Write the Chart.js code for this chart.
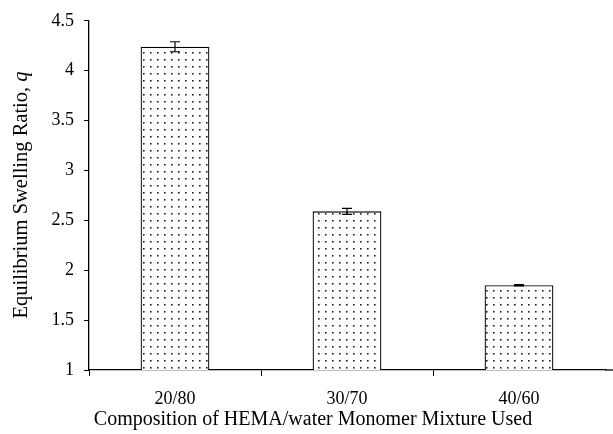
<!DOCTYPE html>
<html>
<head>
<meta charset="utf-8">
<script src="https://cdn.jsdelivr.net/npm/chart.js@4"></script>
<style>
  html, body { margin: 0; padding: 0; background: #fff; }
  #wrap { width: 613px; height: 434px; }
</style>
</head>
<body>
<div id="wrap"><canvas id="chart" width="613" height="434"></canvas></div>
<script>
// ------------ Données ------------
const categories = ["20/80", "30/70", "40/60"];
const swelling   = [4.24, 2.59, 1.85];
const errors     = [0.05, 0.03, 0.006];
const yTicks     = [1, 1.5, 2, 2.5, 3, 3.5, 4, 4.5];

const FONT = "'Liberation Serif', 'Times New Roman', serif";

// motif pointillé des barres
function dotPattern() {
  const c = document.createElement("canvas");
  c.width = 7; c.height = 7;
  const g = c.getContext("2d");
  g.fillStyle = "#fff";
  g.fillRect(0, 0, 7, 7);
  g.fillStyle = "#222";
  g.fillRect(3, 3, 1.6, 1.6);
  return g.createPattern(c, "repeat");
}

// barres d'erreur + titres des axes (q en italique)
const extras = {
  id: "extras",
  afterDatasetsDraw(chart) {
    const ctx = chart.ctx;
    const meta = chart.getDatasetMeta(0);
    const y = chart.scales.y;
    ctx.save();
    ctx.strokeStyle = "#000";
    ctx.lineWidth = 1.2;
    meta.data.forEach((bar, i) => {
      const top = y.getPixelForValue(swelling[i] + errors[i]);
      const bot = y.getPixelForValue(swelling[i] - errors[i]);
      const x = bar.x;
      ctx.beginPath();
      ctx.moveTo(x, top); ctx.lineTo(x, bot);
      ctx.moveTo(x - 5, top); ctx.lineTo(x + 5, top);
      ctx.moveTo(x - 5, bot); ctx.lineTo(x + 5, bot);
      ctx.stroke();
    });
    ctx.restore();
  },
  afterDraw(chart) {
    const ctx = chart.ctx;
    const area = chart.chartArea;
    ctx.save();
    // axe X prolongé jusqu'au bord
    ctx.strokeStyle = "#000";
    ctx.lineWidth = 1.3;
    ctx.beginPath();
    ctx.moveTo(area.right, area.bottom);
    ctx.lineTo(chart.width, area.bottom);
    ctx.stroke();

    ctx.fillStyle = "#000";
    // titre X
    ctx.font = "20px " + FONT;
    ctx.textAlign = "center";
    ctx.textBaseline = "middle";
    ctx.fillText("Composition of HEMA/water Monomer Mixture Used", 313, 420);
    // titre Y
    const plain = "Equilibrium Swelling Ratio, ";
    ctx.font = "20.5px " + FONT;
    const w1 = ctx.measureText(plain).width;
    ctx.font = "italic 20.5px " + FONT;
    const w2 = ctx.measureText("q").width;
    ctx.translate(22, 195);
    ctx.rotate(-Math.PI / 2);
    ctx.textAlign = "left";
    const start = -(w1 + w2) / 2;
    ctx.font = "20.5px " + FONT;
    ctx.fillText(plain, start, 0);
    ctx.font = "italic 20.5px " + FONT;
    ctx.fillText("q", start + w1, 0);
    ctx.restore();
  }
};

document.addEventListener("DOMContentLoaded", () => {
  const ctx = document.getElementById("chart").getContext("2d");
  new Chart(ctx, {
    type: "bar",
    data: {
      labels: categories,
      datasets: [{
        data: swelling,
        backgroundColor: dotPattern(),
        borderColor: "#000",
        borderWidth: 1.3,
        borderSkipped: false,
        barPercentage: 0.4,
        categoryPercentage: 1.0
      }]
    },
    options: {
      responsive: false,
      animation: false,
      layout: { padding: { top: 18, right: 8, left: 0, bottom: 0 } },
      plugins: { legend: { display: false }, tooltip: { enabled: false } },
      scales: {
        x: {
          afterFit: (s) => { s.height = 64; },
          border: { color: "#000", width: 1.3 },
          grid: {
            drawOnChartArea: false, tickLength: 6, offset: true,
            // pas de trait après la dernière catégorie
            color: (c) => c.type === "tick" ? "#000" : "rgba(0,0,0,0)"
          },
          ticks: { color: "#000", font: { family: FONT, size: 18 }, padding: 12 }
        },
        y: {
          min: 1, max: 4.5,
          afterFit: (s) => { s.width = 89; },
          afterBuildTicks: (s) => { s.ticks = yTicks.map(v => ({ value: v })); },
          border: { color: "#000", width: 1.3 },
          grid: { drawOnChartArea: false, color: "#000", tickLength: 5 },
          ticks: {
            color: "#000", font: { family: FONT, size: 18 }, padding: 10,
            callback: (v) => String(v)
          }
        }
      }
    },
    plugins: [extras]
  });
});
</script>
</body>
</html>
